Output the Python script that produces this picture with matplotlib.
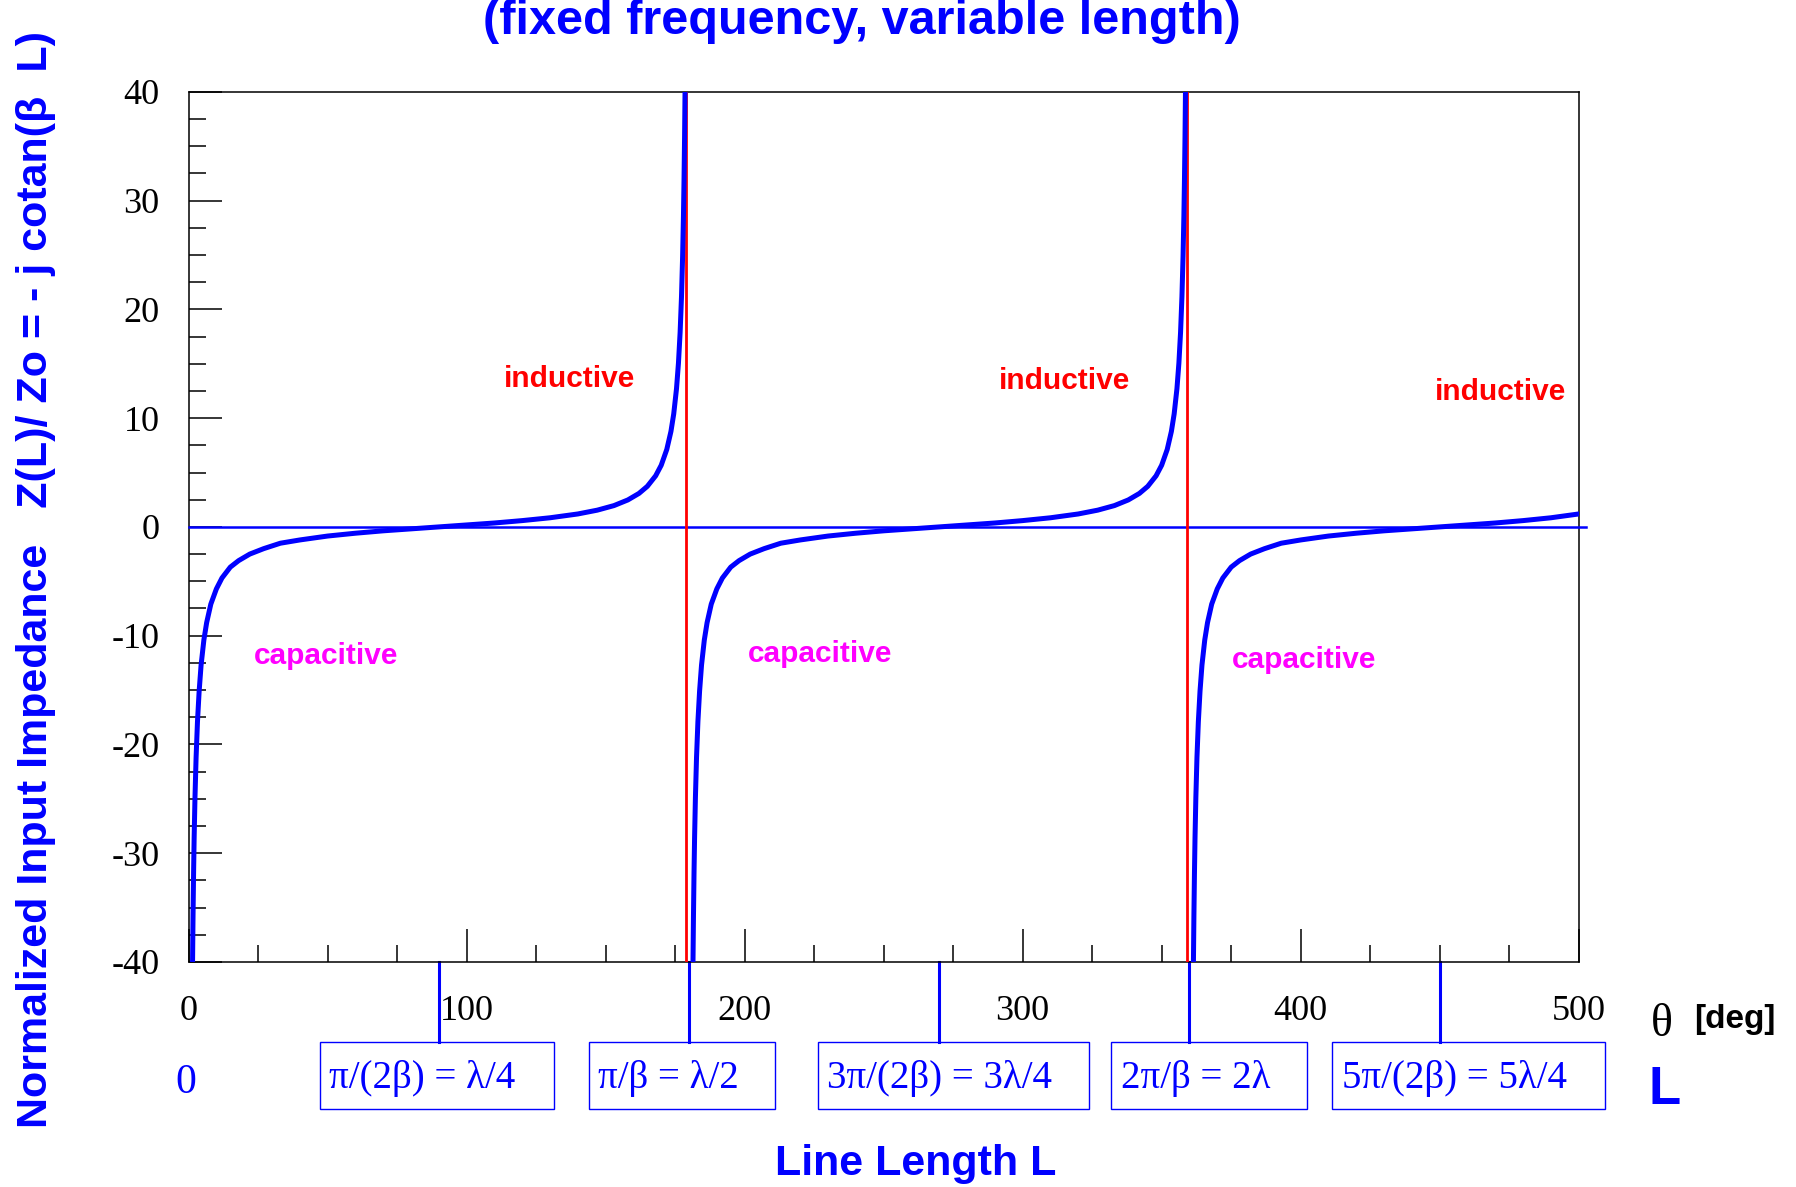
import matplotlib.pyplot as plt
import matplotlib.transforms as mtransforms
from matplotlib.patches import Rectangle
from matplotlib.ticker import MultipleLocator

# one branch of Z(L)/Zo = -j cotan(theta) (offset inside each 180 deg period)
branch_theta = [1.43, 1.6, 1.8, 2.0, 2.3, 2.7, 3.2, 3.8, 4.5, 5.5, 6.5, 8, 10, 12, 15, 18, 22,
                27, 33, 40, 50, 60, 70, 80, 90, 100, 110, 120, 130, 140, 147, 153, 158, 162,
                165, 168, 170, 172, 173.5, 174.5, 175.5, 176.2, 176.8, 177.3, 177.7, 178.0,
                178.2, 178.4, 178.57]
branch_z = [-40.0, -35.8, -31.8, -28.6, -24.9, -21.2, -17.9, -15.1, -12.7, -10.4, -8.8, -7.1,
            -5.7, -4.7, -3.7, -3.1, -2.5, -2.0, -1.5, -1.2, -0.84, -0.58, -0.36, -0.18, 0.0,
            0.18, 0.36, 0.58, 0.84, 1.19, 1.54, 1.96, 2.48, 3.08, 3.73, 4.70, 5.67, 7.12, 8.78,
            10.39, 12.71, 15.06, 17.89, 21.2, 24.9, 28.6, 31.8, 35.8, 40.0]
period_starts = [0, 180, 360]

# poles (red lines) and quarter-wave marks under the axis
poles = [179, 359]
marks = [90, 180, 270, 360, 450]
mark_labels = ['π/(2β) = λ/4', 'π/β = λ/2', '3π/(2β) = 3λ/4', '2π/β = 2λ', '5π/(2β) = 5λ/4']
box_left = [47.1, 144.0, 226.4, 331.9, 411.4]
box_right = [131.4, 211.0, 324.0, 402.1, 509.3]

ind_pos = [(137, 13.6), (315, 13.4), (472, 12.4)]
cap_pos = [(49.4, -11.9), (227.2, -11.7), (401.1, -12.2)]

plt.rcParams['axes.unicode_minus'] = False

fig = plt.figure(figsize=(17.96, 11.87), dpi=100)
ax = fig.add_axes([0.105, 0.1896, 0.774, 0.733])

for start in period_starts:
    ax.plot([start + t for t in branch_theta], branch_z, color='#0000ff', linewidth=3.6,
            solid_capstyle='round', zorder=4)

ax.plot([0, 502.5], [0, 0], color='#0000ff', linewidth=1.8, clip_on=False, zorder=3)
for p in poles:
    ax.plot([p, p], [-40, 40], color='#ff0000', linewidth=2.0, zorder=3)

ax.set_xlim(0, 500)
ax.set_ylim(-40, 40)
ax.xaxis.set_major_locator(MultipleLocator(100))
ax.xaxis.set_minor_locator(MultipleLocator(25))
ax.yaxis.set_major_locator(MultipleLocator(10))
ax.yaxis.set_minor_locator(MultipleLocator(2.5))
ax.tick_params(which='both', direction='in', top=False, right=False, width=1.1, color='black')
ax.tick_params(which='major', length=24)
ax.tick_params(which='minor', length=12)
ax.tick_params(axis='x', which='major', pad=24)
ax.tick_params(axis='y', which='major', pad=21)
for lab in ax.get_xticklabels() + ax.get_yticklabels():
    lab.set_fontfamily('Liberation Serif')
    lab.set_fontsize(26)
for sp in ax.spines.values():
    sp.set_linewidth(1.1)

for x, y in ind_pos:
    ax.text(x, y, 'inductive', color='#ff0000', fontsize=21.5, fontweight='bold',
            family='Liberation Sans', ha='center', va='center')
for x, y in cap_pos:
    ax.text(x, y, 'capacitive', color='#ff00ff', fontsize=21.5, fontweight='bold',
            family='Liberation Sans', ha='center', va='center')

trans = mtransforms.blended_transform_factory(ax.transData, ax.transAxes)
for m in marks:
    ax.plot([m, m], [0, -0.092], color='#0000ff', linewidth=2.2, transform=trans, clip_on=False)
for lab, x0, x1 in zip(mark_labels, box_left, box_right):
    ax.add_patch(Rectangle((x0, -0.169), x1 - x0, 0.077, transform=trans, fill=False,
                           edgecolor='#0000ff', linewidth=1.0, clip_on=False))
    ax.text(x0 + 3.4, -0.1335, lab, color='#0000ff', fontsize=28, family='Liberation Serif',
            transform=trans, ha='left', va='center')

ax.text(-1.1, -0.139, '0', color='#0000ff', fontsize=30, family='Liberation Serif',
        transform=trans, ha='center', va='center')
ax.text(531, -0.147, 'L', color='#0000ff', fontsize=38, fontweight='bold',
        family='Liberation Sans', transform=trans, ha='center', va='center')
ax.text(530, -0.072, 'θ', color='black', fontsize=33, family='Liberation Serif',
        transform=trans, ha='center', va='center')
ax.text(556, -0.066, '[deg]', color='black', fontsize=24, fontweight='bold',
        family='Liberation Sans', transform=trans, ha='center', va='center')

fig.text(0.48, 0.982, '(fixed frequency, variable length)', color='#0000ff', fontsize=35,
         fontweight='bold', family='Liberation Sans', ha='center', va='center')
fig.text(0.51, 0.019, 'Line Length L', color='#0000ff', fontsize=31, fontweight='bold',
         family='Liberation Sans', ha='center', va='center')
fig.text(0.020, 0.050, 'Normalized Input Impedance   Z(L)/ Zo = - j cotan(β  L)',
         color='#0000ff', fontsize=31, fontweight='bold', family='Liberation Sans',
         rotation=90, ha='center', va='bottom')

fig.savefig('out.png', dpi=100)
